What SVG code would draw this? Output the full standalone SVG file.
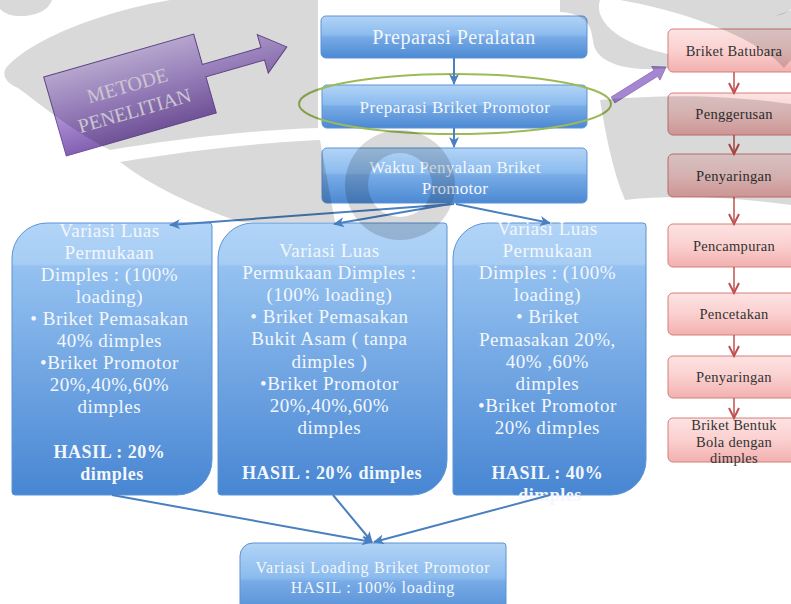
<svg xmlns="http://www.w3.org/2000/svg" width="791" height="604" viewBox="0 0 791 604">
<defs>
<linearGradient id="gTop" x1="0" y1="0" x2="0" y2="1">
<stop offset="0" stop-color="#b2d4f6"/><stop offset="0.45" stop-color="#8bbbee"/><stop offset="0.5" stop-color="#78abe6"/><stop offset="1" stop-color="#4c89d3"/>
</linearGradient>
<linearGradient id="gBig" x1="0" y1="0" x2="0" y2="1">
<stop offset="0" stop-color="#b1d4f7"/><stop offset="0.15" stop-color="#a7cdf4"/><stop offset="0.16" stop-color="#94c1f0"/><stop offset="1" stop-color="#4886d3"/>
</linearGradient>
<linearGradient id="gPink" x1="0" y1="0" x2="0" y2="1">
<stop offset="0" stop-color="#fde3e3"/><stop offset="0.5" stop-color="#fad0cf"/><stop offset="1" stop-color="#f2b0ae"/>
</linearGradient>
<linearGradient id="gPurple" x1="0" y1="0" x2="0" y2="1">
<stop offset="0" stop-color="#d6c3f1"/><stop offset="0.45" stop-color="#b397dc"/><stop offset="1" stop-color="#8461b2"/>
</linearGradient>
<marker id="mBlue" markerWidth="12" markerHeight="10" refX="10" refY="5" orient="auto" markerUnits="userSpaceOnUse">
<path d="M0,0 L11,5 L0,10 L3,5 Z" fill="#4a7fc0"/>
</marker>
<marker id="mRed" markerWidth="14" markerHeight="12" refX="12" refY="6" orient="auto" markerUnits="userSpaceOnUse">
<path d="M2,1 L12,6 L2,11" fill="none" stroke="#c0504d" stroke-width="2"/>
</marker>
<style>
.bt{fill:#f3f7fc;font-family:"Liberation Serif",serif;text-anchor:middle}
.bb{font-size:19px;letter-spacing:0.5px}
.hb{font-size:18px;font-weight:bold}
.pt{fill:#333333;font-family:"Liberation Serif",serif;font-size:14.5px;letter-spacing:0.3px;text-anchor:middle}
.blue{fill:url(#gTop);stroke:#5d93d4;stroke-width:1}
.big{fill:url(#gBig);stroke:#5d93d4;stroke-width:1}
.pink{fill:url(#gPink);stroke:#d47f7c;stroke-width:1}
.conn{stroke:#4a7fc0;stroke-width:2;fill:none;marker-end:url(#mBlue)}
.rconn{stroke:#c0504d;stroke-width:1.5;fill:none;marker-end:url(#mRed)}
.wm{fill:#000000;fill-opacity:0.15}
</style>
</defs>
<rect width="791" height="604" fill="#ffffff"/>

<g id="metode">
<g transform="translate(130,95) rotate(-16)">
<path d="M-78,-41 L78,-41 L78,-9.5 L139,-9.5 L139,-23 L164,-3 L139,17 L139,3.5 L78,3.5 L78,41 L-78,41 Z" fill="url(#gPurple)" stroke="#6f4f9a" stroke-width="1"/>
<text x="0" y="-3" fill="#eee8f5" font-family="Liberation Serif, serif" font-size="20" text-anchor="middle">METODE</text>
<text x="0" y="23" fill="#eee8f5" font-family="Liberation Serif, serif" font-size="20" text-anchor="middle">PENELITIAN</text>
</g>
</g>

<g id="preparasi-peralatan">
<rect class="blue" x="321" y="16" width="266" height="42" rx="5"/>
<text class="bt" x="454" y="44" font-size="20" letter-spacing="0.5">Preparasi Peralatan</text>
</g>
<g id="preparasi-briket">
<rect class="blue" x="322" y="85" width="265" height="43" rx="5"/>
<text class="bt" x="455" y="113" font-size="17" letter-spacing="0.5">Preparasi Briket Promotor</text>
</g>
<g id="waktu">
<rect class="blue" x="322" y="148" width="265" height="55" rx="5"/>
<text class="bt" x="455" y="172.5" font-size="17" letter-spacing="0.3">Waktu Penyalaan Briket</text>
<text class="bt" x="455" y="193.5" font-size="17" letter-spacing="0.3">Promotor</text>
</g>
<g id="ellipse">
<ellipse cx="455" cy="104" rx="156" ry="30" fill="none" stroke="#9bbb59" stroke-width="2"/>
</g>

<g id="box1">
<path class="big" d="M12,258 A35,35 0 0 1 47,223 H209 A3,3 0 0 1 212,226 V460 A35,35 0 0 1 177,495 H15 A3,3 0 0 1 12,492 Z"/>
<text class="bt bb" y="236.5">
<tspan x="112">Variasi Luas</tspan>
<tspan x="112" dy="22.1">Permukaan</tspan>
<tspan x="112" dy="22.1">Dimples : (100%</tspan>
<tspan x="112" dy="22.1">loading)</tspan>
<tspan x="112" dy="22.1">• Briket Pemasakan</tspan>
<tspan x="112" dy="22.1">40% dimples</tspan>
<tspan x="112" dy="22.1">•Briket Promotor</tspan>
<tspan x="112" dy="22.1">20%,40%,60%</tspan>
<tspan x="112" dy="22.1">dimples</tspan>
<tspan x="112" dy="44.2" class="hb">HASIL : 20%</tspan>
<tspan x="112" dy="22.1" class="hb">dimples</tspan>
</text>
</g>
<g id="box2">
<path class="big" d="M218,258 A35,35 0 0 1 253,223 H444 A3,3 0 0 1 447,226 V460 A35,35 0 0 1 412,495 H221 A3,3 0 0 1 218,492 Z"/>
<text class="bt bb" y="256.5">
<tspan x="332">Variasi Luas</tspan>
<tspan x="332" dy="22.2">Permukaan Dimples :</tspan>
<tspan x="332" dy="22.2">(100% loading)</tspan>
<tspan x="332" dy="22.2">• Briket Pemasakan</tspan>
<tspan x="332" dy="22.2">Bukit Asam ( tanpa</tspan>
<tspan x="332" dy="22.2">dimples )</tspan>
<tspan x="332" dy="22.2">•Briket Promotor</tspan>
<tspan x="332" dy="22.2">20%,40%,60%</tspan>
<tspan x="332" dy="22.2">dimples</tspan>
<tspan x="332" dy="44.4" class="hb">HASIL : 20% dimples</tspan>
</text>
</g>
<g id="box3">
<path class="big" d="M453,258 A35,35 0 0 1 488,223 H643 A3,3 0 0 1 646,226 V460 A35,35 0 0 1 611,495 H456 A3,3 0 0 1 453,492 Z"/>
<text class="bt bb" y="234.5">
<tspan x="550">Variasi Luas</tspan>
<tspan x="550" dy="22.2">Permukaan</tspan>
<tspan x="550" dy="22.2">Dimples : (100%</tspan>
<tspan x="550" dy="22.2">loading)</tspan>
<tspan x="550" dy="22.2">• Briket</tspan>
<tspan x="550" dy="22.2">Pemasakan 20%,</tspan>
<tspan x="550" dy="22.2">40% ,60%</tspan>
<tspan x="550" dy="22.2">dimples</tspan>
<tspan x="550" dy="22.2">•Briket Promotor</tspan>
<tspan x="550" dy="22.2">20% dimples</tspan>
<tspan x="550" dy="44.4" class="hb">HASIL : 40%</tspan>
<tspan x="550" dy="22.2" class="hb">dimples</tspan>
</text>
</g>
<g id="loading">
<path class="blue" d="M240,556 A13,13 0 0 1 253,543 H503 A3,3 0 0 1 506,546 V620 H240 Z"/>
<text class="bt" x="373" y="572.5" font-size="16" letter-spacing="0.8">Variasi Loading Briket Promotor</text>
<text class="bt" x="373" y="592.5" font-size="16" letter-spacing="0.8">HASIL : 100% loading</text>
</g>

<g id="pink-boxes">
<g id="p1"><rect class="pink" x="668" y="29" width="140" height="43" rx="5"/><text class="pt" x="734" y="55.5">Briket Batubara</text></g>
<g id="p2"><rect class="pink" x="668" y="93" width="140" height="42" rx="5"/><text class="pt" x="734" y="119">Penggerusan</text></g>
<g id="p3"><rect class="pink" x="668" y="154" width="140" height="43" rx="5"/><text class="pt" x="734" y="180.5">Penyaringan</text></g>
<g id="p4"><rect class="pink" x="668" y="224" width="140" height="43" rx="5"/><text class="pt" x="734" y="250.5">Pencampuran</text></g>
<g id="p5"><rect class="pink" x="668" y="293" width="140" height="42" rx="5"/><text class="pt" x="734" y="319">Pencetakan</text></g>
<g id="p6"><rect class="pink" x="668" y="356" width="140" height="42" rx="5"/><text class="pt" x="734" y="382">Penyaringan</text></g>
<g id="p7"><rect class="pink" x="668" y="418" width="140" height="44" rx="5"/>
<text class="pt" x="734" y="430">Briket Bentuk</text><text class="pt" x="734" y="446.5">Bola dengan</text><text class="pt" x="734" y="463">dimples</text></g>
</g>

<g id="connectors">
<line class="conn" x1="454" y1="58" x2="454" y2="84"/>
<line class="conn" x1="454" y1="128" x2="454" y2="147"/>
<line class="conn" x1="454" y1="204" x2="170" y2="225"/>
<line class="conn" x1="450" y1="204" x2="334" y2="224"/>
<line class="conn" x1="456" y1="204" x2="550" y2="223"/>
<line class="conn" x1="112" y1="495" x2="372" y2="542"/>
<line class="conn" x1="333" y1="495" x2="372" y2="542"/>
<line class="conn" x1="550" y1="495" x2="374" y2="542"/>
<line class="rconn" x1="734" y1="72" x2="734" y2="93"/>
<line class="rconn" x1="734" y1="135" x2="734" y2="154"/>
<line class="rconn" x1="734" y1="197" x2="734" y2="224"/>
<line class="rconn" x1="734" y1="267" x2="734" y2="293"/>
<line class="rconn" x1="734" y1="335" x2="734" y2="356"/>
<line class="rconn" x1="734" y1="398" x2="734" y2="418"/>
<polygon points="611.2,97 654,70.3 651.6,66.5 666,67 660,80.1 657.6,76.3 614.8,103" fill="#a487d0" stroke="#8a6cb8" stroke-width="0.8"/>
</g>

<g id="watermark">
<path class="wm" d="M0,0 H52 C48,12 32,17 16,16 C8,15 3,12 0,9 Z"/>
<path class="wm" d="M791,0 H738 C742,12 758,17 775,16 C782,15 788,12 791,9 Z"/>
<path class="wm" d="M6,68 C30,40 100,12 170,0 L318,0 L318,128 C250,130 170,140 110,150 C70,130 35,100 18,88 C5,82 2,75 6,68 Z"/>
<path class="wm" d="M120,162 C190,150 270,142 320,140 L335,222 L240,222 C190,205 150,185 120,162 Z"/>
<path class="wm" d="M784,68 C760,40 690,12 620,0 L738,0 C742,12 758,17 775,16 L791,10 V60 Z"/>
<path class="wm" d="M560,0 H600 C594,18 612,42 668,54 L668,68 C628,72 600,64 594,46 C591,32 593,14 560,12 Z"/>
<path class="wm" d="M600,100 C680,92 750,98 791,104 V205 C740,198 680,194 625,200 C612,170 605,130 600,100 Z"/>
<path class="wm" fill-rule="evenodd" d="M455,185 A55,55 0 1 0 345,185 A55,55 0 1 0 455,185 Z M432,185 A32,32 0 1 1 368,185 A32,32 0 1 1 432,185 Z"/>
</g>
</svg>
